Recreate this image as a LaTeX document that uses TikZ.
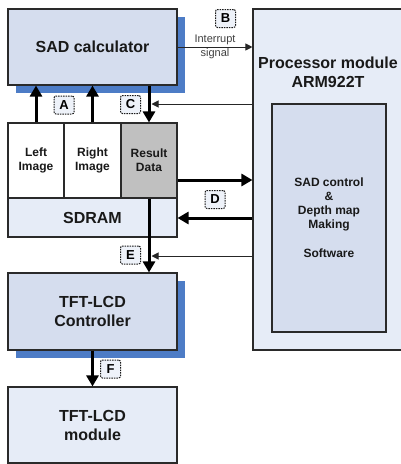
\documentclass[tikz,border=0pt]{standalone}
\usepackage{fontspec}
\setmainfont{Liberation Sans}
\usetikzlibrary{arrows.meta}
\definecolor{boxA}{HTML}{D5DDEE}
\definecolor{boxB}{HTML}{E6ECF7}
\definecolor{shad}{HTML}{4D7CC6}
\definecolor{resg}{HTML}{C0C0C0}
\definecolor{edge}{HTML}{2A2A2A}
\definecolor{lblfill}{HTML}{EEF2F9}
\begin{document}
\begin{tikzpicture}[x=1pt,y=-1pt,
  blk/.style={draw=edge,line width=1.1pt,inner sep=0pt,align=center,font=\bfseries\fontsize{16}{19}\selectfont,text=black!90},
  cell/.style={draw=edge,line width=1.1pt,inner sep=0pt,align=center,font=\bfseries\fontsize{12}{14}\selectfont,text=black!90},
  shadowbox/.style={fill=shad,draw=none},
  tag/.style={draw=black!90,dash pattern=on 1.5pt off 1pt,line width=1pt,rounded corners=2pt,fill=lblfill,minimum width=20pt,minimum height=18pt,inner sep=0pt,font=\bfseries\fontsize{13}{13}\selectfont},
  fat/.style={line width=3pt,-{Triangle[length=11pt,width=12pt]}},
  thin/.style={line width=1pt,draw=black!85,-{Triangle[length=7pt,width=7pt]}},
]
\useasboundingbox (0,0) rectangle (401,464);
% shadows
\fill[shadowbox] (16,17) rectangle (185,93);
\fill[shadowbox] (16,281) rectangle (185,358);
\fill[shadowbox] (280,112) rectangle (394,340);
% processor module
\node[blk,fill=boxB,minimum width=150pt,minimum height=341pt] (proc) at (328,179.5) {};
\node[font=\bfseries\fontsize{16}{19}\selectfont,align=center,text=black!90] (proct) at (328,72) {Processor module\\ARM922T};
\node[cell,fill=boxA,minimum width=114pt,minimum height=228pt] (sw) at (329,218) {SAD control\\\&\\Depth map\\Making\\[15pt]Software};
% SAD calculator
\node[blk,fill=boxA,minimum width=169pt,minimum height=76pt] (sad) at (92.5,47) {SAD calculator};
% memory
\node[cell,fill=white,minimum width=56pt,minimum height=75pt] (left) at (36,160.5) {Left\\Image};
\node[cell,fill=white,minimum width=57pt,minimum height=75pt] (right) at (92.5,160.5) {Right\\Image};
\node[cell,fill=resg,minimum width=56pt,minimum height=75pt] (res) at (149,160.5) {Result\\Data};
\node[blk,fill=boxB,minimum width=169pt,minimum height=39pt] (sdram) at (92.5,217.5) {SDRAM};
% TFT
\node[blk,fill=boxA,minimum width=169pt,minimum height=77pt] (tftc) at (92.5,311.5) {TFT-LCD\\Controller};
\node[blk,fill=boxB,minimum width=169pt,minimum height=76pt] (tftm) at (92.5,425) {TFT-LCD\\module};
% helper coordinates
\coordinate (y104) at (0,104);
\coordinate (y180) at (0,180);
\coordinate (y218) at (0,218);
\coordinate (y256) at (0,256);
\coordinate (cin) at (151.5,104);
\coordinate (ein) at (151.5,256);
% connectors
\draw[fat] (left.north) -- (left.north |- sad.south);
\draw[fat] (right.north) -- (right.north |- sad.south);
\draw[fat] (sad.south -| res.north) -- (res.north);
\draw[thin] (sad.east) -- (sad.east -| proc.west);
\draw[thin] (proc.west |- y104) -- (cin);
\draw[fat] (res.east |- y180) -- (proc.west |- y180);
\draw[fat] (proc.west |- y218) -- (sdram.east |- y218);
\draw[thin] (proc.west |- y256) -- (ein);
\draw[fat] (res.south) -- (res.south |- tftc.north);
\draw[fat] (tftc.south) -- (tftm.north);
% text and tags
\node[align=center,font=\fontsize{11}{14}\selectfont,text=black!75] (intr) at (215,46.5) {Interrupt\\signal};
\node[tag] (ta) at (64,105) {A};
\node[tag] (tb) at (225.5,18.5) {B};
\node[tag] (tc) at (130.5,104.5) {C};
\node[tag] (td) at (215,199.5) {D};
\node[tag] (te) at (130.5,255) {E};
\node[tag] (tf) at (110.5,369) {F};
\end{tikzpicture}
\end{document}
